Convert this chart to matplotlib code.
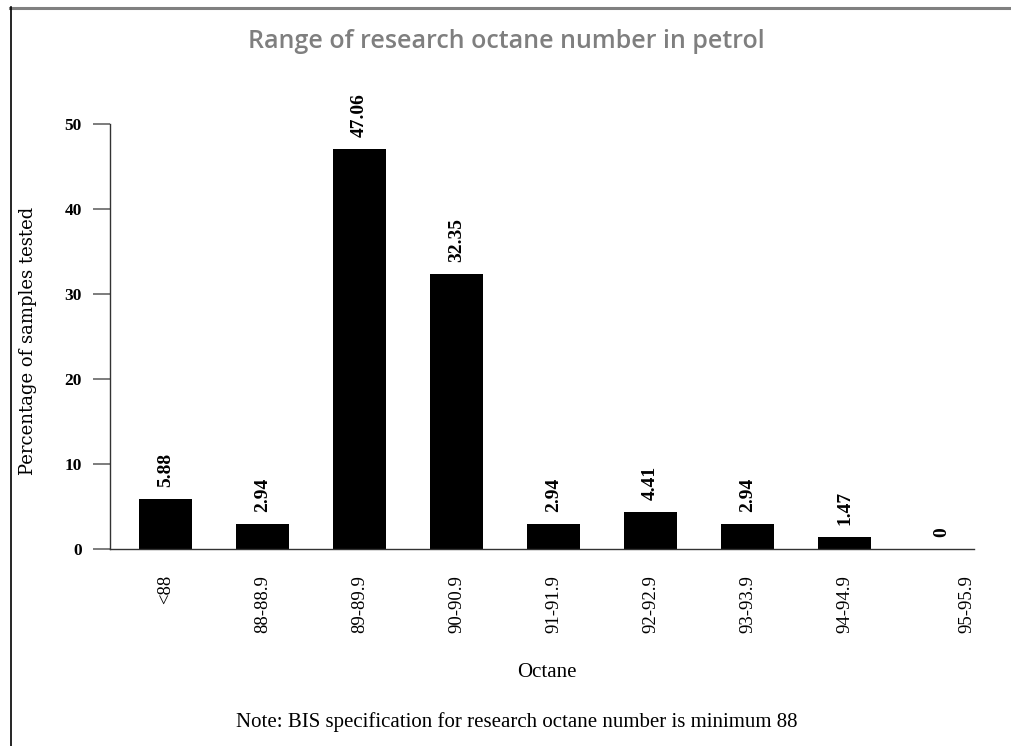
import matplotlib
matplotlib.use("Agg")
import matplotlib.pyplot as plt
from matplotlib.lines import Line2D
import matplotlib.transforms as mtransforms

categories = ["<88", "88-88.9", "89-89.9", "90-90.9", "91-91.9", "92-92.9", "93-93.9", "94-94.9", "95-95.9"]
values = [5.88, 2.94, 47.06, 32.35, 2.94, 4.41, 2.94, 1.47, 0]
value_labels = ["5.88", "2.94", "47.06", "32.35", "2.94", "4.41", "2.94", "1.47", "0"]
yticks = [0, 10, 20, 30, 40, 50]

SERIF = "Liberation Serif"
W, H = 1012, 746

fig = plt.figure(figsize=(W / 100, H / 100), dpi=100)
fig.patch.set_facecolor("white")

# frame lines (top grey, left black)
fig.add_artist(Line2D([10 / W, 1.0], [1 - 7.5 / H, 1 - 7.5 / H], transform=fig.transFigure, color="#808080", lw=2.2))
fig.add_artist(Line2D([10.5 / W, 10.5 / W], [0, 1 - 7 / H], transform=fig.transFigure, color="black", lw=1.2))

ax = fig.add_axes([110 / W, 1 - 549 / H, (974 - 110) / W, (549 - 124) / H])
x = list(range(len(categories)))
ax.bar(x, values, width=0.546, color="black")
ax.set_xlim(-0.572, 8.335)
ax.set_ylim(0, 50)

for xi, v, lab in zip(x, values, value_labels):
    ax.annotate(lab, (xi, v), xytext=(0, 12), textcoords="offset pixels",
                rotation=90, ha="center", va="bottom", fontsize=14,
                fontweight="bold", family=SERIF, annotation_clip=False)

for s in ["top", "right"]:
    ax.spines[s].set_visible(False)
ax.spines["left"].set_color("#333333")
ax.spines["bottom"].set_color("#333333")
ax.spines["left"].set_linewidth(1.0)
ax.spines["bottom"].set_linewidth(1.0)

ax.set_yticks(yticks)
ax.set_yticklabels([str(t) for t in yticks], fontsize=12.5, fontweight="bold", family=SERIF)
ax.tick_params(axis="y", length=12.2, width=1.2, color="#666666", pad=8)
ax.set_xticks(x)
ax.set_xticklabels(categories, rotation=90, fontsize=13.5, family=SERIF, va="top")
ax.tick_params(axis="x", length=0, pad=18.7)

# last tick label sits at the right edge
lbls = ax.get_xticklabels()
lbls[-1].set_transform(lbls[-1].get_transform() + mtransforms.ScaledTranslation(25 / 100, 0, fig.dpi_scale_trans))

fig.text(506 / W, 1 - 48 / H, "Range of research octane number in petrol", ha="center", va="baseline",
         fontsize=18, fontweight="semibold", color="#7f7f7f", family="Open Sans")
fig.text(28 / W, 1 - 341 / H, "Percentage of samples tested", rotation=90, ha="center", va="center",
         fontsize=13, family="DejaVu Serif")
fig.text(547 / W, 1 - 677 / H, "Octane", ha="center", va="baseline", fontsize=15, family=SERIF)
fig.text(517 / W, 1 - 727 / H, "Note: BIS specification for research octane number is minimum 88",
         ha="center", va="baseline", fontsize=15, family=SERIF)

fig.savefig("out.png", dpi=100)
